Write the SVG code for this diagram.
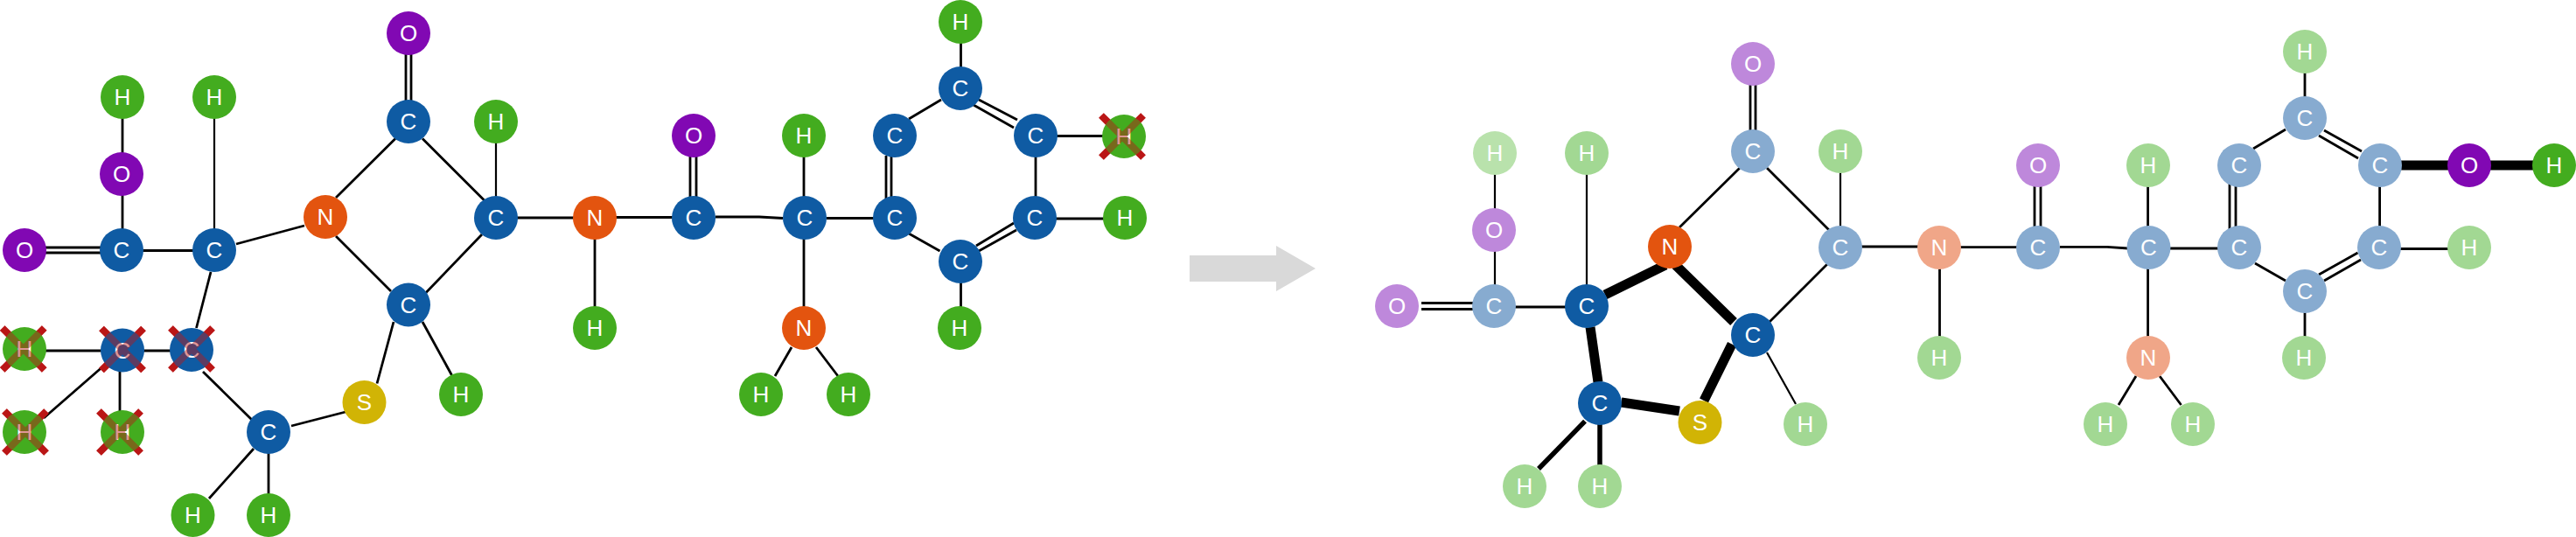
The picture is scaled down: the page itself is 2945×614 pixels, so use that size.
<svg xmlns="http://www.w3.org/2000/svg" width="2945" height="614" viewBox="0 0 2945 614">
<style>
text{font-family:"Liberation Sans",Arial,sans-serif;font-size:26px;fill:#fff;text-anchor:middle}
#bonds path{fill:none;stroke:#000;stroke-width:2.8}
#bonds path.f{stroke-width:2.2}
#bonds path.t{stroke-width:11}
#bonds path.m{stroke-width:5.5}
circle{stroke:none}
.H circle{fill:#43ac1f}.C circle{fill:#0f5ba3}.N circle{fill:#e3540f}.O circle{fill:#8108b3}.S circle{fill:#d1b405}
.h circle{fill:#a2d893}.c circle{fill:#87abd0}.n circle{fill:#f0a688}.o circle{fill:#be88db}.hh circle{fill:#b9e2ac}
.x{fill:none;stroke:#bb1616;stroke-width:8}.xa{opacity:.45}
</style>
<defs><path id="cross" d="M-24-24L24 24M24-24L-24 24"/></defs>
<rect width="2945" height="614" fill="#fff"/>
<g id="bonds">
<path d="M50 283H120M50 289H120M160 286.5H225M140 130V180M140 220V265M270 279L348 258M241 311L224.5 375M232 425L288 480M333 487L395 471M431 438.5L450 368M483 368L516.5 429M384 226L452 158.6M384 270L447 333M483 158.6L553.6 229M551 268L486.6 335M590 249H660M680 270V352M464 58V120M470 58V120"/>
<path class="f" d="M245 135V265M567 160V228"/>
<path d="M50 401H120M160 401H200M120 417L50 478M137 420V470M290 513L239 570M307 515V568"/>
<path d="M818 248H868L895 249.5M700 248.5H770M789 175V230M796 175V230M919 175V352M945 249.5H1000M905 397L886 430M933 397L958 430M1098.5 46V80M1076 114L1039 136M1119 114L1163 137M1113 120L1159 146M1205 155.5H1265M1013 178V228M1019 178V228M1184 178V228M1039 267L1074.5 287M1116 281L1159 255M1119 287L1162 263M1098.5 322V355M1205 250H1265"/>
<path d="M1625 346.5H1690M1625 353.5H1690M1730 351H1795M1920 260L1989 192M2020 192L2091 263M2089 302L2023 368M2125 282H2195M2001 95V155M2007 95V155"/>
<path class="f" d="M1709 195V245M1709 285V330M1814 195V330M2020 403L2053 462M2104 195V262"/>
<path class="t" d="M1835 337L1904 303M1915.5 303L1982 368M1818 374L1827 437M1853.5 460L1920 470M1948 458L1980 393.5"/>
<path class="m" d="M1812 481.6L1759 536M1829 484V535"/>
<path d="M2635 80V115M2613 148L2576 170M2657 149L2700 173M2651 155L2696 181M2720.6 208V262M2549 210V262M2556 210V262M2578 301L2613 321M2651 314L2695.5 289M2657 321L2699 297M2742 284.5H2800M2480 284H2540M2355 282.4H2409L2433 284M2240 282.7H2310M2326 210V262M2333 210V262M2455.6 208V388M2442 430L2422 463M2469 430L2493.6 463M2217.5 305V388M2635 355V388"/>
<path class="t" d="M2745 189H2800M2845 189H2900"/>
</g>
<polygon id="arrow" points="1360,292 1459,292 1459,281 1504,307 1459,333 1459,322 1360,322" fill="#d9d9d9"/>
<g id="left">
<g id="a1" class="O"><circle cx="28" cy="286" r="25"/><text x="28" y="295.3">O</text></g>
<g id="a2" class="C"><circle cx="139" cy="286" r="25"/><text x="139" y="295.3">C</text></g>
<g id="a3" class="O"><circle cx="139" cy="199" r="25"/><text x="139" y="208.3">O</text></g>
<g id="a4" class="H"><circle cx="140" cy="111" r="25"/><text x="140" y="120.3">H</text></g>
<g id="a5" class="C"><circle cx="245" cy="286" r="25"/><text x="245" y="295.3">C</text></g>
<g id="a6" class="H"><circle cx="245" cy="111" r="25"/><text x="245" y="120.3">H</text></g>
<g id="a7" class="N"><circle cx="372" cy="248" r="25"/><text x="372" y="257.3">N</text></g>
<g id="a8" class="C"><circle cx="467" cy="139" r="25"/><text x="467" y="148.3">C</text></g>
<g id="a9" class="O"><circle cx="467" cy="38" r="25"/><text x="467" y="47.3">O</text></g>
<g id="a10" class="H"><circle cx="567" cy="139" r="25"/><text x="567" y="148.3">H</text></g>
<g id="a11" class="C"><circle cx="567" cy="249" r="25"/><text x="567" y="258.3">C</text></g>
<g id="a12" class="N"><circle cx="680" cy="249" r="25"/><text x="680" y="258.3">N</text></g>
<g id="a13" class="H"><circle cx="680" cy="375" r="25"/><text x="680" y="384.3">H</text></g>
<g id="a14" class="C"><circle cx="467" cy="348.5" r="25"/><text x="467" y="357.8">C</text></g>
<g id="a15" class="S"><circle cx="416.5" cy="460" r="25"/><text x="416.5" y="469.3">S</text></g>
<g id="a16" class="H"><circle cx="527" cy="451" r="25"/><text x="527" y="460.3">H</text></g>
<g id="a17" class="C"><circle cx="307" cy="494" r="25"/><text x="307" y="503.3">C</text></g>
<g id="a18" class="H"><circle cx="220.5" cy="589" r="25"/><text x="220.5" y="598.3">H</text></g>
<g id="a19" class="H"><circle cx="307" cy="589" r="25"/><text x="307" y="598.3">H</text></g>
<g id="a20" class="C"><use href="#cross" class="x" x="219" y="399"/><circle cx="219" cy="400" r="25"/><text x="219" y="409.3">C</text><use href="#cross" class="x xa" x="219" y="399"/></g>
<g id="a21" class="C"><use href="#cross" class="x" x="140" y="399.5"/><circle cx="140" cy="400.5" r="25"/><text x="140" y="409.8">C</text><use href="#cross" class="x xa" x="140" y="399.5"/></g>
<g id="a22" class="H"><use href="#cross" class="x" x="26.7" y="399"/><circle cx="28" cy="399" r="25"/><text x="28" y="408.3">H</text><use href="#cross" class="x xa" x="26.7" y="399"/></g>
<g id="a23" class="H"><use href="#cross" class="x" x="29" y="494"/><circle cx="28" cy="494" r="25"/><text x="28" y="503.3">H</text><use href="#cross" class="x xa" x="29" y="494"/></g>
<g id="a24" class="H"><use href="#cross" class="x" x="137" y="494"/><circle cx="140" cy="494" r="25"/><text x="140" y="503.3">H</text><use href="#cross" class="x xa" x="137" y="494"/></g>
<g id="b1" class="H"><circle cx="1098" cy="25" r="25"/><text x="1098" y="34.3">H</text></g>
<g id="b2" class="C"><circle cx="1098" cy="101" r="25"/><text x="1098" y="110.3">C</text></g>
<g id="b3" class="C"><circle cx="1023" cy="155" r="25"/><text x="1023" y="164.3">C</text></g>
<g id="b4" class="C"><circle cx="1184" cy="155" r="25"/><text x="1184" y="164.3">C</text></g>
<g id="b5" class="H"><use href="#cross" class="x" x="1283" y="156"/><circle cx="1285" cy="156" r="25"/><text x="1285" y="165.3">H</text><use href="#cross" class="x xa" x="1283" y="156"/></g>
<g id="b6" class="O"><circle cx="793" cy="155" r="25"/><text x="793" y="164.3">O</text></g>
<g id="b7" class="H"><circle cx="919" cy="155" r="25"/><text x="919" y="164.3">H</text></g>
<g id="b8" class="C"><circle cx="793" cy="249" r="25"/><text x="793" y="258.3">C</text></g>
<g id="b9" class="C"><circle cx="920" cy="249" r="25"/><text x="920" y="258.3">C</text></g>
<g id="b10" class="C"><circle cx="1023" cy="249" r="25"/><text x="1023" y="258.3">C</text></g>
<g id="b11" class="C"><circle cx="1183" cy="249" r="25"/><text x="1183" y="258.3">C</text></g>
<g id="b12" class="H"><circle cx="1286" cy="249" r="25"/><text x="1286" y="258.3">H</text></g>
<g id="b13" class="C"><circle cx="1098" cy="299" r="25"/><text x="1098" y="308.3">C</text></g>
<g id="b14" class="H"><circle cx="1097" cy="375" r="25"/><text x="1097" y="384.3">H</text></g>
<g id="b15" class="N"><circle cx="919" cy="375" r="25"/><text x="919" y="384.3">N</text></g>
<g id="b16" class="H"><circle cx="870" cy="451" r="25"/><text x="870" y="460.3">H</text></g>
<g id="b17" class="H"><circle cx="970" cy="451" r="25"/><text x="970" y="460.3">H</text></g>
</g>
<g id="right">
<g id="c1" class="o"><circle cx="1597" cy="350" r="25"/><text x="1597" y="359.3">O</text></g>
<g id="c2" class="c"><circle cx="1708" cy="350" r="25"/><text x="1708" y="359.3">C</text></g>
<g id="c3" class="o"><circle cx="1708" cy="263" r="25"/><text x="1708" y="272.3">O</text></g>
<g id="c4" class="hh"><circle cx="1709" cy="175" r="25"/><text x="1709" y="184.3">H</text></g>
<g id="c5" class="C"><circle cx="1814" cy="350" r="25"/><text x="1814" y="359.3">C</text></g>
<g id="c6" class="h"><circle cx="1814" cy="175" r="25"/><text x="1814" y="184.3">H</text></g>
<g id="c7" class="N"><circle cx="1909" cy="282" r="25"/><text x="1909" y="291.3">N</text></g>
<g id="c8" class="c"><circle cx="2004" cy="173" r="25"/><text x="2004" y="182.3">C</text></g>
<g id="c9" class="o"><circle cx="2004" cy="73" r="25"/><text x="2004" y="82.3">O</text></g>
<g id="c10" class="h"><circle cx="2104" cy="173" r="25"/><text x="2104" y="182.3">H</text></g>
<g id="c11" class="c"><circle cx="2104" cy="283" r="25"/><text x="2104" y="292.3">C</text></g>
<g id="c12" class="C"><circle cx="2004" cy="383" r="25"/><text x="2004" y="392.3">C</text></g>
<g id="c13" class="S"><circle cx="1943.5" cy="483" r="25"/><text x="1943.5" y="492.3">S</text></g>
<g id="c14" class="h"><circle cx="2064" cy="485" r="25"/><text x="2064" y="494.3">H</text></g>
<g id="c15" class="C"><circle cx="1829" cy="461" r="25"/><text x="1829" y="470.3">C</text></g>
<g id="c16" class="h"><circle cx="1743" cy="556" r="25"/><text x="1743" y="565.3">H</text></g>
<g id="c17" class="h"><circle cx="1829" cy="556" r="25"/><text x="1829" y="565.3">H</text></g>
<g id="d1" class="h"><circle cx="2635" cy="59" r="25"/><text x="2635" y="68.3">H</text></g>
<g id="d2" class="c"><circle cx="2635" cy="135" r="25"/><text x="2635" y="144.3">C</text></g>
<g id="d3" class="c"><circle cx="2560" cy="189" r="25"/><text x="2560" y="198.3">C</text></g>
<g id="d4" class="c"><circle cx="2721" cy="189" r="25"/><text x="2721" y="198.3">C</text></g>
<g id="d5" class="O"><circle cx="2823" cy="189" r="25"/><text x="2823" y="198.3">O</text></g>
<g id="d6" class="H"><circle cx="2920" cy="189" r="25"/><text x="2920" y="198.3">H</text></g>
<g id="d7" class="o"><circle cx="2330" cy="189" r="25"/><text x="2330" y="198.3">O</text></g>
<g id="d8" class="h"><circle cx="2456" cy="189" r="25"/><text x="2456" y="198.3">H</text></g>
<g id="d9" class="n"><circle cx="2217" cy="283" r="25"/><text x="2217" y="292.3">N</text></g>
<g id="d10" class="c"><circle cx="2330" cy="283" r="25"/><text x="2330" y="292.3">C</text></g>
<g id="d11" class="c"><circle cx="2456.5" cy="283" r="25"/><text x="2456.5" y="292.3">C</text></g>
<g id="d12" class="c"><circle cx="2560" cy="283" r="25"/><text x="2560" y="292.3">C</text></g>
<g id="d13" class="c"><circle cx="2720" cy="283" r="25"/><text x="2720" y="292.3">C</text></g>
<g id="d14" class="h"><circle cx="2823" cy="283" r="25"/><text x="2823" y="292.3">H</text></g>
<g id="d15" class="c"><circle cx="2635" cy="333" r="25"/><text x="2635" y="342.3">C</text></g>
<g id="d16" class="h"><circle cx="2634" cy="409" r="25"/><text x="2634" y="418.3">H</text></g>
<g id="d17" class="h"><circle cx="2217" cy="409" r="25"/><text x="2217" y="418.3">H</text></g>
<g id="d18" class="n"><circle cx="2456" cy="409" r="25"/><text x="2456" y="418.3">N</text></g>
<g id="d19" class="h"><circle cx="2407" cy="485" r="25"/><text x="2407" y="494.3">H</text></g>
<g id="d20" class="h"><circle cx="2507" cy="485" r="25"/><text x="2507" y="494.3">H</text></g>
</g>
</svg>
